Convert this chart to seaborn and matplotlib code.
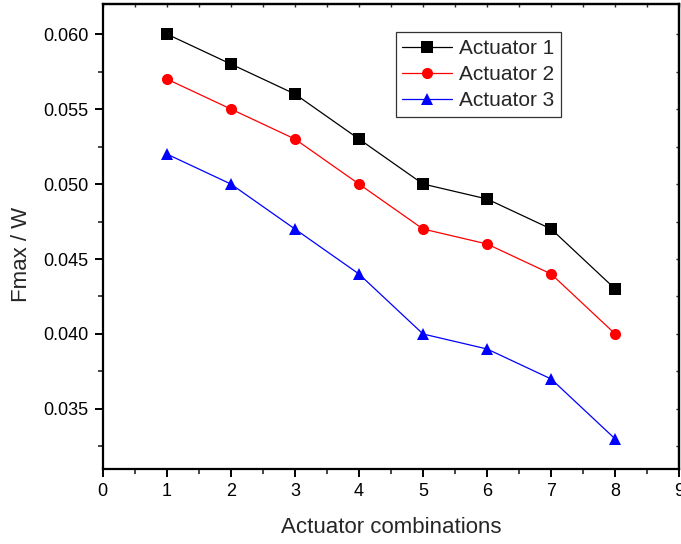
import matplotlib
matplotlib.use("Agg")
import matplotlib.pyplot as plt
from matplotlib.ticker import MultipleLocator
import seaborn as sns
import pandas as pd

combinations = [1, 2, 3, 4, 5, 6, 7, 8]
actuator_1 = [0.060, 0.058, 0.056, 0.053, 0.050, 0.049, 0.047, 0.043]
actuator_2 = [0.057, 0.055, 0.053, 0.050, 0.047, 0.046, 0.044, 0.040]
actuator_3 = [0.052, 0.050, 0.047, 0.044, 0.040, 0.039, 0.037, 0.033]
series_names = ["Actuator 1", "Actuator 2", "Actuator 3"]

df = pd.DataFrame({
    "combination": combinations * 3,
    "fmax": actuator_1 + actuator_2 + actuator_3,
    "series": sum([[n] * len(combinations) for n in series_names], []),
})

sns.set_theme(style="ticks")
plt.rcParams["font.family"] = ["Liberation Sans", "DejaVu Sans"]

fig = plt.figure(figsize=(6.81, 5.44), dpi=100)
ax = fig.add_axes([0.1508, 0.1379, 0.8467, 0.8547])

palette = {"Actuator 1": "black", "Actuator 2": "red", "Actuator 3": "blue"}
markers = {"Actuator 1": "s", "Actuator 2": "o", "Actuator 3": "^"}
sns.lineplot(data=df, x="combination", y="fmax", hue="series", style="series",
             palette=palette, markers=markers, dashes=False, markersize=8,
             markeredgewidth=0, linewidth=0.9, ax=ax)

ax.set_xlim(0, 9)
ax.set_ylim(0.031, 0.062)
ax.xaxis.set_major_locator(MultipleLocator(1))
ax.xaxis.set_minor_locator(MultipleLocator(0.5))
ax.yaxis.set_major_locator(MultipleLocator(0.005))
ax.yaxis.set_minor_locator(MultipleLocator(0.0025))
ax.yaxis.set_major_formatter(plt.FuncFormatter(lambda v, p: f"{v:.3f}"))

for s in ax.spines.values():
    s.set_visible(True)
    s.set_linewidth(1.6)
    s.set_color("black")

ax.tick_params(which="major", direction="out", length=6, width=1.4,
               labelsize=13, colors="black", pad=4)
ax.tick_params(which="minor", direction="out", length=3.5, width=1.2)

# mirrored inward ticks on the top and right edges
top = ax.secondary_xaxis("top")
top.xaxis.set_major_locator(MultipleLocator(1))
top.xaxis.set_minor_locator(MultipleLocator(0.5))
top.tick_params(which="both", direction="in", length=2.5, width=1.0, labeltop=False)
right = ax.secondary_yaxis("right")
right.yaxis.set_major_locator(MultipleLocator(0.005))
right.yaxis.set_minor_locator(MultipleLocator(0.0025))
right.tick_params(which="both", direction="in", length=2.5, width=1.0, labelright=False)
for sec in (top, right):
    for s in sec.spines.values():
        s.set_linewidth(1.6)

ax.set_xlabel("Actuator combinations", fontsize=16, labelpad=12)
ax.set_ylabel("Fmax / W", fontsize=16)
ax.yaxis.set_label_coords(-0.123, 0.462)

leg = ax.legend(loc="upper left", bbox_to_anchor=(0.508, 0.939), borderaxespad=0,
                fontsize=15, frameon=True, fancybox=False, handlelength=2.4,
                handletextpad=0.34, borderpad=0.32, labelspacing=0.34,
                markerscale=1.0)
leg.get_frame().set_edgecolor("black")
leg.get_frame().set_linewidth(0.9)
leg.set_title(None)

fig.savefig("out.png", dpi=100)
